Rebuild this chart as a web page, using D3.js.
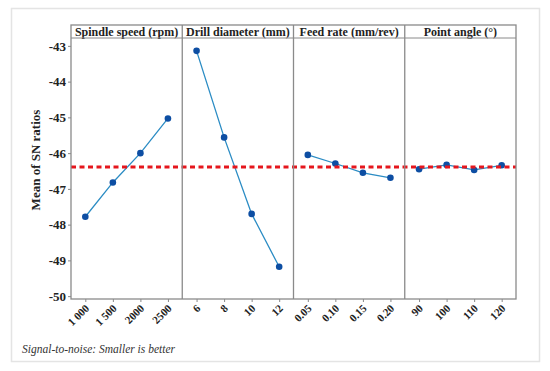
<!DOCTYPE html>
<html>
<head>
<style>
  body { margin: 0; background: #fff; }
</style>
</head>
<body>
<script src="https://cdn.jsdelivr.net/npm/d3@7"></script>
<script>
// factor names and levels
const factors = ["Spindle speed (rpm)", "Drill diameter (mm)", "Feed rate (mm/rev)", "Point angle (°)"]
const spindleLevels = ["1000", "1500", "2000", "2500"]
const drillLevels = ["6", "8", "10", "12"]
const feedLevels = ["0.05", "0.10", "0.15", "0.20"]
const angleLevels = ["90", "100", "110", "120"]
const tickLabels = [
  ["1 000", "1 500", "2000", "2500"],
  ["6", "8", "10", "12"],
  ["0.05", "0.10", "0.15", "0.20"],
  ["90", "100", "110", "120"]
]
// mean SN ratios
const spindleSN = [-47.78, -46.82, -46.0, -45.03]
const drillSN = [-43.14, -45.56, -47.70, -49.18]
const feedSN = [-46.05, -46.29, -46.55, -46.69]
const angleSN = [-46.45, -46.33, -46.47, -46.34]
const overallMean = -46.39
const yTicks = [-43, -44, -45, -46, -47, -48, -49, -50]

const levels = [spindleLevels, drillLevels, feedLevels, angleLevels]
const values = [spindleSN, drillSN, feedSN, angleSN]

const W = 550, H = 371
const mLeft = 71, mRight = 516, mTop = 25, stripH = 13, mBottom = 299
const panelW = (mRight - mLeft) / 4
const serif = "'Liberation Serif', 'Times New Roman', 'DejaVu Serif', serif"

const svg = d3.select("body").append("svg").attr("width", W).attr("height", H)
  .attr("font-family", serif)

// outer frame
svg.append("rect").attr("x", 11.5).attr("y", 8.5).attr("width", 528).attr("height", 353)
  .attr("fill", "#fff").attr("stroke", "#e4e4e4").attr("stroke-width", 1.5)

const y = d3.scaleLinear().domain([-50.08, -42.78]).range([mBottom, mTop + stripH])

// y axis
const yAxis = d3.axisLeft(y).tickValues(yTicks).tickSize(3).tickFormat(d3.format("d"))
const gy = svg.append("g").attr("transform", `translate(${mLeft},0)`).call(yAxis)
  .attr("font-family", serif)
gy.select(".domain").remove()
gy.selectAll(".tick line").attr("stroke", "#888")
gy.selectAll(".tick text").attr("font-size", 13).attr("font-weight", "bold").attr("fill", "#222")
  .attr("x", -5).text(d => "-" + Math.abs(d))

svg.append("text").attr("transform", "translate(40,160) rotate(-90)")
  .attr("text-anchor", "middle").attr("font-size", 13).attr("font-weight", "bold").attr("fill", "#222")
  .text("Mean of SN ratios")

factors.forEach((f, i) => {
  const x0 = mLeft + i * panelW
  const x = d3.scalePoint().domain(levels[i]).range([x0, x0 + panelW]).padding(0.52)

  // strip header
  svg.append("text").attr("x", x0 + panelW / 2).attr("y", mTop + 10.5)
    .attr("text-anchor", "middle").attr("font-size", 12).attr("font-weight", "bold").attr("fill", "#222")
    .text(f)

  // bottom axis
  const xAxis = d3.axisBottom(x).tickSize(3).tickFormat((d, j) => tickLabels[i][j])
  const gx = svg.append("g").attr("transform", `translate(0,${mBottom})`).call(xAxis)
    .attr("font-family", serif)
  gx.select(".domain").remove()
  gx.selectAll(".tick line").attr("stroke", "#888")
  gx.selectAll(".tick text").attr("font-size", 11).attr("font-weight", "bold").attr("fill", "#222")
    .attr("text-anchor", "end").attr("dy", 0).attr("y", 0)
    .attr("transform", "translate(4,10) rotate(-45)")

  const pts = levels[i].map((l, j) => [x(l), y(values[i][j])])

  svg.append("path").attr("d", d3.line()(pts)).attr("fill", "none")
    .attr("stroke", "#2b8cc4").attr("stroke-width", 1.3)

  svg.selectAll(null).data(pts).enter().append("circle")
    .attr("cx", d => d[0]).attr("cy", d => d[1]).attr("r", 3.3).attr("fill", "#0d4ea3")
})

// mean reference line
svg.append("line").attr("x1", mLeft).attr("x2", mRight).attr("y1", y(overallMean)).attr("y2", y(overallMean))
  .attr("stroke", "#e5161d").attr("stroke-width", 3).attr("stroke-dasharray", "5,3.5")

// panel frame and dividers
const frame = svg.append("g").attr("stroke", "#8a8a8a").attr("fill", "none")
frame.append("rect").attr("x", mLeft).attr("y", mTop).attr("width", mRight - mLeft).attr("height", mBottom - mTop)
  .attr("stroke-width", 1.3)
frame.append("line").attr("x1", mLeft).attr("x2", mRight).attr("y1", mTop + stripH).attr("y2", mTop + stripH)
for (let i = 1; i < 4; i++) {
  frame.append("line").attr("x1", mLeft + i * panelW).attr("x2", mLeft + i * panelW)
    .attr("y1", mTop).attr("y2", mBottom).attr("stroke-width", 1.3)
}

svg.append("text").attr("x", 22).attr("y", 353).attr("font-size", 11.5).attr("font-style", "italic")
  .attr("fill", "#333").text("Signal-to-noise: Smaller is better")
</script>
</body>
</html>
